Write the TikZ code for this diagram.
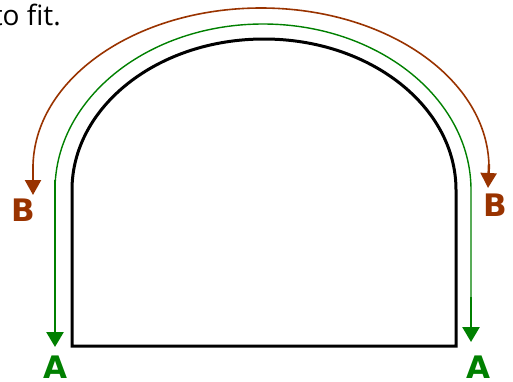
\documentclass[tikz,border=0pt]{standalone}
\usepackage{fontspec}
\setmainfont{DejaVu Sans}
\newfontfamily\captfont{Open Sans}
\usetikzlibrary{arrows.meta}
\definecolor{brn}{HTML}{993300}
\definecolor{grn}{HTML}{008000}
\tikzset{
  archline/.style={line width=3pt, black},
  gthin/.style={line width=1.4pt, grn},
  gthick/.style={line width=2.6pt, grn, -{Triangle[length=15pt,width=17pt]}},
  bline/.style={line width=1.6pt, brn},
  barrow/.style={line width=2.4pt, brn, -{Triangle[length=15pt,width=16pt]}},
  lbl/.style={font=\fontsize{31}{31}\selectfont\bfseries, inner sep=0pt},
}
\begin{document}
\begin{tikzpicture}[x=1pt,y=-1pt]
\useasboundingbox (0,0) rectangle (513,381);
% caption fragment
\node[font=\captfont\fontsize{28}{28}\selectfont, anchor=base east, inner sep=0pt] (cap) at (61,25) {to fit.};
% black arch shape
\draw[archline] (72,346) -- (72,190) arc[start angle=180, end angle=360, x radius=192, y radius=151] -- (456,346) -- cycle;
% green path
\coordinate (gl) at (55,190);
\coordinate (gr) at (471,190);
\draw[gthin] (gl) arc[start angle=180, end angle=360, x radius=208, y radius=166] -- (471,300);
\coordinate (gla) at (55,180);
\coordinate (glt) at (55,347);
\coordinate (gra) at (471,297);
\coordinate (grt) at (471,342);
\draw[gthick] (gla) -- (glt);
\draw[gthick] (gra) -- (grt);
% brown path
\coordinate (bl) at (33,168);
\coordinate (br) at (489,168);
\draw[bline] (bl) arc[start angle=180, end angle=360, x radius=228, y radius=160];
\coordinate (blt) at (33,195);
\coordinate (brt) at (488,188);
\draw[barrow] (33,164) -- (blt);
\draw[barrow] (489,164) -- (brt);
% labels
\node[lbl, text=brn] (bL) at (23,210) {B};
\node[lbl, text=brn] (bR) at (495,205) {B};
\node[lbl, text=grn] (aL) at (55,367) {A};
\node[lbl, text=grn] (aR) at (478,367) {A};
\end{tikzpicture}
\end{document}
